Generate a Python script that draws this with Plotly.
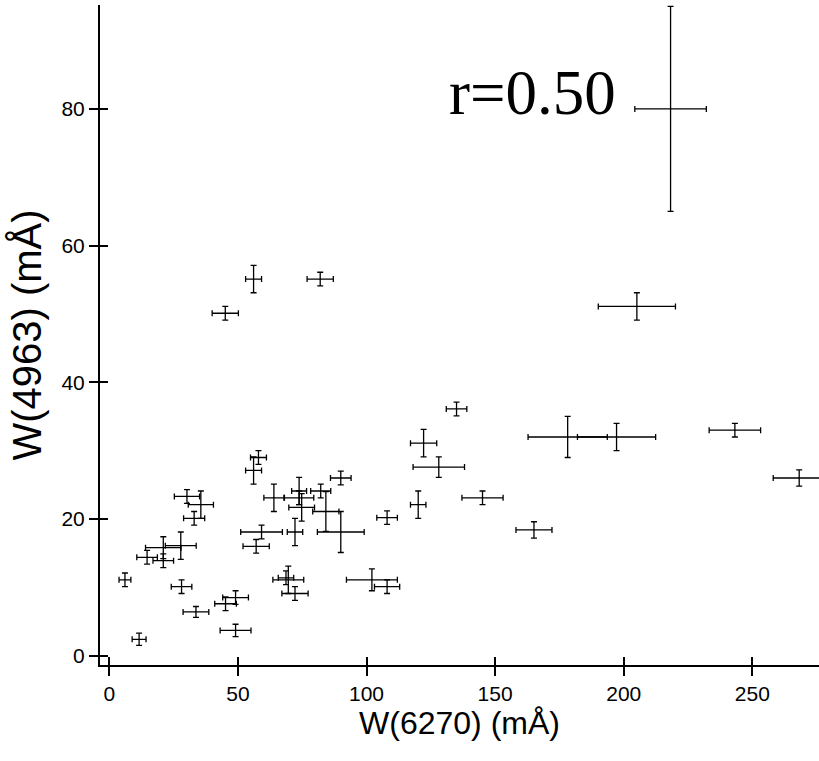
import plotly.graph_objects as go

# W(6270) values (mÅ) and their errors
w6270 = [218.2, 205.1, 178.2, 197.2, 243.2, 268.2,
         58.0, 56.1, 30.2, 35.6, 33.0, 27.8, 21.0, 14.7, 21.0, 6.1,
         28.1, 33.7, 11.6, 49.1, 49.1, 45.2, 64.0, 73.8, 73.8, 82.2,
         74.8, 84.2, 90.0, 59.2, 72.2, 57.1, 90.0, 69.6, 68.7, 72.2,
         135.0, 122.2, 128.1, 145.1, 120.1, 108.0, 165.1, 102.1, 108.0,
         56.1, 82.0, 45.1]
w6270_err = [13.9, 15.0, 15.4, 15.2, 10.0, 10.1,
             3.1, 3.1, 4.9, 4.9, 4.1, 6.0, 6.9, 4.0, 4.0, 2.3,
             4.0, 5.0, 2.7, 6.0, 5.0, 4.2, 3.9, 2.9, 5.7, 3.9,
             5.0, 5.1, 9.1, 8.1, 3.0, 5.1, 4.0, 6.0, 3.0, 5.1,
             4.0, 5.1, 10.0, 8.0, 3.0, 4.0, 7.0, 9.9, 4.9,
             3.1, 5.1, 5.1]
# W(4963) values (mÅ) and their errors
w4963 = [80.0, 51.1, 32.0, 32.0, 33.0, 26.0,
         29.0, 27.1, 23.3, 22.1, 20.1, 16.1, 15.8, 14.4, 13.9, 11.1,
         10.1, 6.4, 2.4, 3.7, 8.5, 7.6, 23.1, 24.1, 23.1, 24.1,
         21.7, 21.1, 18.1, 18.1, 18.1, 16.0, 26.0, 11.1, 11.4, 9.1,
         36.1, 31.1, 27.6, 23.1, 22.1, 20.2, 18.4, 11.1, 10.1,
         55.1, 55.1, 50.1]
w4963_err = [15.0, 2.0, 3.0, 2.0, 1.0, 1.2,
             1.0, 2.0, 1.0, 2.0, 1.0, 2.0, 1.6, 1.0, 1.0, 1.0,
             1.0, 0.8, 0.9, 0.9, 1.0, 1.0, 2.0, 2.0, 1.0, 1.0,
             2.0, 2.9, 3.0, 1.0, 2.0, 1.0, 1.0, 2.0, 1.0, 1.0,
             1.0, 2.0, 1.5, 1.0, 2.0, 1.0, 1.2, 1.6, 1.0,
             2.0, 1.0, 1.0]

x_ticks = [0, 50, 100, 150, 200, 250]
y_ticks = [0, 20, 40, 60, 80]
annotation_text = "r=0.50"

XR = [-3.6, 275.9]
YR = [-1.36, 95.2]

fig = go.Figure()
fig.add_trace(go.Scatter(
    x=w6270, y=w4963, mode="markers",
    marker=dict(size=1, color="black"),
    error_x=dict(type="data", array=w6270_err, visible=True,
                 color="black", thickness=1.3, width=3),
    error_y=dict(type="data", array=w4963_err, visible=True,
                 color="black", thickness=1.3, width=3),
    showlegend=False, hoverinfo="skip",
))
# invisible trace on overlay axes to give inside tick halves
fig.add_trace(go.Scatter(x=[None], y=[None], xaxis="x2", yaxis="y2",
                         showlegend=False, hoverinfo="skip"))

tickfont = dict(family="Liberation Sans, Arial, sans-serif", size=21, color="black")
xtitlefont = dict(family="Liberation Sans, Arial, sans-serif", size=32, color="black")
ytitlefont = dict(family="Liberation Sans, Arial, sans-serif", size=40, color="black")

fig.update_layout(
    width=819, height=761,
    margin=dict(l=100, r=0, t=5, b=96),
    paper_bgcolor="white", plot_bgcolor="white",
    xaxis=dict(range=XR, tickvals=x_ticks, ticks="outside", ticklen=9,
               tickwidth=2, tickcolor="black", showline=True, linewidth=2,
               linecolor="black", showgrid=False, zeroline=False,
               tickfont=tickfont, automargin=False,
               title=dict(text="W(6270) (mÅ)", font=xtitlefont, standoff=0)),
    yaxis=dict(range=YR, tickvals=y_ticks, ticks="outside", ticklen=9,
               tickwidth=2, tickcolor="black", showline=True, linewidth=2,
               linecolor="black", showgrid=False, zeroline=False,
               tickfont=tickfont, automargin=False,
               title=dict(text="W(4963) (mÅ)", font=ytitlefont, standoff=7)),
    xaxis2=dict(range=XR, tickvals=x_ticks, ticks="inside", ticklen=8,
                tickwidth=2, tickcolor="black", showticklabels=False,
                showgrid=False, zeroline=False, overlaying="x", side="bottom"),
    yaxis2=dict(range=YR, tickvals=y_ticks, ticks="inside", ticklen=8,
                tickwidth=2, tickcolor="black", showticklabels=False,
                showgrid=False, zeroline=False, overlaying="y", side="left"),
    annotations=[dict(text=annotation_text, xref="paper", yref="paper",
                      x=0.482, y=0.867, xanchor="left", yanchor="middle",
                      showarrow=False,
                      font=dict(family="Liberation Serif, Times New Roman, serif",
                                size=63, color="black"))],
)

fig.write_html(
    "out.html",
    config={"displayModeBar": False},
    post_script="document.body.style.margin='0';document.body.style.overflow='hidden';",
)
